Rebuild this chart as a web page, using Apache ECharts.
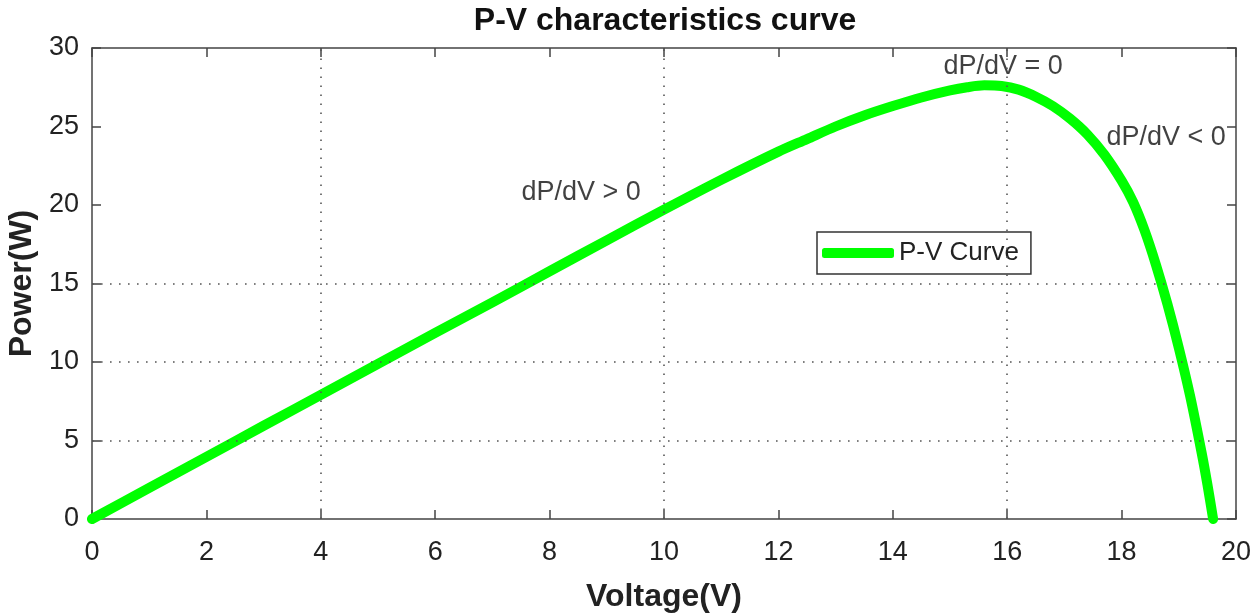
<!DOCTYPE html>
<html>
<head>
<meta charset="utf-8">
<script src="https://cdn.jsdelivr.net/npm/echarts@6/dist/echarts.min.js"></script>
<style>html,body{margin:0;padding:0;background:#fff}#c{width:1250px;height:615px}</style>
</head>
<body>
<div id="c"></div>
<script>
const voltage = [0, 1, 2, 3, 4, 5, 6, 7, 8, 9, 10, 11, 12, 12.5, 13, 13.5, 14, 14.5, 15, 15.3, 15.6, 15.9, 16.2, 16.5, 16.8, 17.1, 17.4, 17.7, 18.0, 18.2, 18.4, 18.6, 18.8, 19.0, 19.2, 19.4, 19.5, 19.6];
const power   = [0, 1.98, 3.96, 5.94, 7.9, 9.88, 11.85, 13.8, 15.78, 17.75, 19.7, 21.6, 23.4, 24.2, 25.0, 25.7, 26.3, 26.85, 27.3, 27.5, 27.62, 27.58, 27.35, 26.9, 26.3, 25.5, 24.5, 23.2, 21.55, 20.2, 18.4, 16.2, 13.7, 10.9, 7.8, 4.2, 2.2, 0];
const gridX = [4, 10, 16];
const gridY = [5, 10, 15];
const notes = ['dP/dV > 0', 'dP/dV = 0', 'dP/dV < 0'];
const noteV = [8.55, 15.93, 18.78];
const noteP = [20.8, 28.85, 24.3];

const FONT = '"Liberation Sans", Arial, sans-serif';
const axisLine = {show: true, onZero: false, lineStyle: {color: '#444', width: 1.5}};
const axisTick = {show: true, inside: true, length: 9, lineStyle: {color: '#444', width: 1.5}};
const labelStyle = {color: '#222', fontSize: 27, fontFamily: FONT};

const chart = echarts.init(document.getElementById('c'));
chart.setOption({
  animation: false,
  backgroundColor: '#fff',
  title: {
    text: 'P-V characteristics curve', left: 660, top: 0, textAlign: 'center',
    textStyle: {fontSize: 32, fontWeight: 'bold', color: '#111', fontFamily: FONT}
  },
  grid: {left: 92, top: 48, right: 14, bottom: 96, containLabel: false, outerBoundsMode: 'none'},
  legend: {
    left: 817, top: 232, orient: 'horizontal',
    borderColor: '#333', borderWidth: 1.5, borderRadius: 0,
    padding: [8, 12, 8, 5], itemWidth: 72, itemHeight: 10,
    icon: 'roundRect',
    textStyle: {fontSize: 26, color: '#222', fontFamily: FONT},
    data: ['P-V Curve']
  },
  xAxis: [{
    type: 'value', min: 0, max: 20, interval: 2, position: 'bottom',
    name: 'Voltage(V)', nameLocation: 'middle', nameGap: 62,
    nameTextStyle: {fontSize: 32, fontWeight: 'bold', color: '#222', fontFamily: FONT},
    axisLine, axisTick, axisLabel: Object.assign({margin: 20}, labelStyle),
    splitLine: {show: false}
  }, {
    type: 'value', min: 0, max: 20, interval: 2, position: 'top',
    axisLine, axisTick, axisLabel: {show: false}, splitLine: {show: false}
  }],
  yAxis: [{
    type: 'value', min: 0, max: 30, interval: 5, position: 'left',
    name: 'Power(W)', nameLocation: 'middle', nameGap: 54,
    nameTextStyle: {fontSize: 32, fontWeight: 'bold', color: '#222', fontFamily: FONT},
    axisLine, axisTick, axisLabel: Object.assign({margin: 13}, labelStyle),
    splitLine: {show: false}
  }, {
    type: 'value', min: 0, max: 30, interval: 5, position: 'right',
    axisLine, axisTick, axisLabel: {show: false}, splitLine: {show: false}
  }],
  series: [{
    name: 'grid', type: 'line', data: [], z: 1, silent: true,
    markLine: {
      silent: true, symbol: 'none', label: {show: false},
      lineStyle: {color: '#555', width: 1.6, type: [1.6, 7.4]},
      data: gridX.map(v => ({xAxis: v})).concat(gridY.map(v => ({yAxis: v})))
    }
  }, {
    name: 'P-V Curve', type: 'line', z: 3, smooth: 0.3, showSymbol: false,
    color: '#00ff00',
    lineStyle: {color: '#00ff00', width: 10, cap: 'round', join: 'round'},
    itemStyle: {color: '#00ff00'},
    data: voltage.map((v, i) => [v, power[i]])
  }, {
    name: 'notes', type: 'scatter', z: 4, symbolSize: 0, silent: true,
    label: {show: true, position: 'inside', formatter: p => p.name,
      fontSize: 27, color: '#111', fontFamily: FONT},
    data: notes.map((n, i) => ({name: n, value: [noteV[i], noteP[i]]}))
  }]
});
</script>
</body>
</html>
